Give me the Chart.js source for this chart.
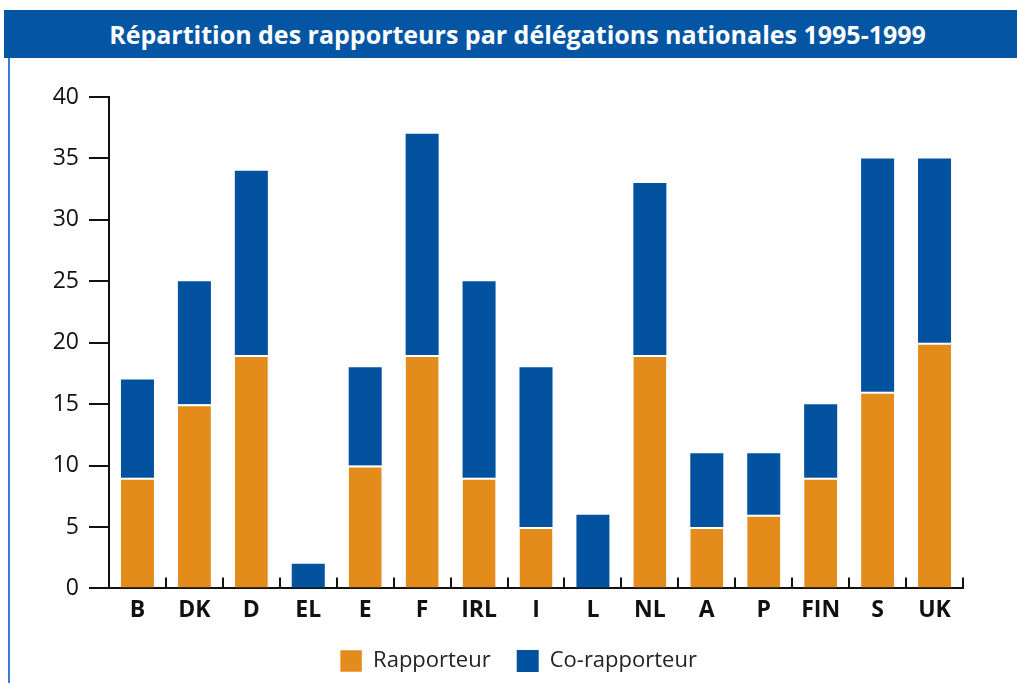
<!DOCTYPE html>
<html>
<head>
<meta charset="utf-8">
<script src="https://cdn.jsdelivr.net/npm/chart.js@4/dist/chart.umd.min.js"></script>
<style>
  html, body { margin: 0; padding: 0; background: #fff; }
  body { width: 1017px; height: 683px; position: relative; overflow: hidden; font-family: "Open Sans", sans-serif; }
  #titleBar {
    position: absolute; left: 4px; top: 10px; width: 1013px; height: 48px;
    background: #0455a4; color: #fff; font-weight: bold; font-size: 25px;
    line-height: 48px; text-align: center; text-indent: 14px;
  }
  #frame { position: absolute; left: 8px; top: 58px; width: 2px; height: 625px; background: #3b7bd0; }
  #chartBox { position: absolute; left: 0; top: 0; width: 1017px; height: 683px; }
</style>
</head>
<body>
<div id="chartBox"><canvas id="repChart" width="1017" height="683"></canvas></div>
<div id="titleBar">Répartition des rapporteurs par délégations nationales 1995-1999</div>
<div id="frame"></div>
<script>
// --- data ---
const delegations = ['B', 'DK', 'D', 'EL', 'E', 'F', 'IRL', 'I', 'L', 'NL', 'A', 'P', 'FIN', 'S', 'UK'];
const rapporteur =   [9, 15, 19, 0, 10, 19, 9, 5, 0, 19, 5, 6, 9, 16, 20];
const coRapporteur = [8, 10, 15, 2, 8, 18, 16, 13, 6, 14, 6, 5, 6, 19, 15];

const ORANGE = '#e38c1c';
const BLUE = '#02529f';

// short upward tick marks on the category axis, between the bars
const xTicksPlugin = {
    id: 'xTicks',
    afterDatasetsDraw(chart) {
        const { ctx, chartArea, scales } = chart;
        const x = scales.x;
        const n = delegations.length;
        const step = (x.right - x.left) / n;
        ctx.save();
        ctx.strokeStyle = '#111';
        ctx.lineWidth = 2;
        for (let i = 1; i <= n; i++) {
            const xx = Math.round(x.left + step * i);
            ctx.beginPath();
            ctx.moveTo(xx, chartArea.bottom);
            ctx.lineTo(xx, chartArea.bottom - 11);
            ctx.stroke();
        }
        ctx.restore();
    }
};

const ctx = document.getElementById('repChart').getContext('2d');
new Chart(ctx, {
    type: 'bar',
    data: {
        labels: delegations,
        datasets: [
            {
                label: 'Rapporteur',
                data: rapporteur,
                backgroundColor: ORANGE,
                borderColor: '#ffffff',
                borderWidth: { top: 2, left: 0, right: 0, bottom: 0 },
                borderSkipped: false,
            },
            {
                label: 'Co-rapporteur',
                data: coRapporteur,
                backgroundColor: BLUE,
                borderColor: '#ffffff',
                borderWidth: 0,
            }
        ]
    },
    options: {
        responsive: false,
        animation: false,
        devicePixelRatio: 1,
        layout: { padding: { left: 20, right: 0, top: 97, bottom: 1 } },
        datasets: {
            bar: { barPercentage: 0.58, categoryPercentage: 1 }
        },
        plugins: {
            title: { display: false },
            tooltip: { enabled: false },
            legend: {
                position: 'bottom',
                labels: {
                    boxWidth: 22,
                    boxHeight: 22,
                    padding: 26,
                    color: '#222',
                    font: { family: 'Open Sans', size: 22 }
                }
            }
        },
        scales: {
            x: {
                stacked: true,
                border: { display: true, color: '#111', width: 2 },
                grid: { display: false },
                ticks: {
                    color: '#111',
                    padding: 0,
                    font: { family: 'Open Sans', size: 23, weight: 'bold' }
                }
            },
            y: {
                stacked: true,
                min: 0,
                max: 40,
                border: { display: true, color: '#111', width: 2 },
                grid: { drawOnChartArea: false, tickLength: 20, color: '#111', lineWidth: 2 },
                ticks: {
                    stepSize: 5,
                    color: '#111',
                    padding: 10,
                    font: { family: 'Open Sans', size: 23 }
                },
                afterFit(scale) { scale.width = 89; }
            },
            y2: {
                position: 'right',
                display: true,
                border: { display: false },
                grid: { display: false },
                ticks: { display: false },
                afterFit(scale) { scale.width = 54; }
            }
        }
    },
    plugins: [xTicksPlugin]
});
</script>
</body>
</html>
